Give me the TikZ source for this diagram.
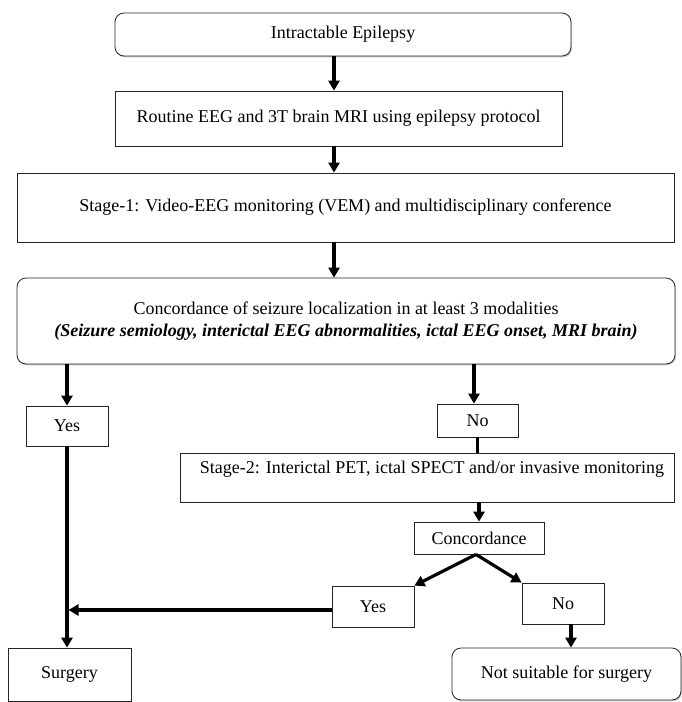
\documentclass[tikz,border=0pt]{standalone}
\usepackage{fontspec}
\setmainfont{Liberation Serif}
\usetikzlibrary{arrows.meta,shadows}
\tikzset{
  box/.style={draw=black!85, line width=0.8pt, fill=white, inner sep=0pt,
    font=\fontsize{18}{21.5}\selectfont, align=center,
    drop shadow={shadow xshift=1pt,shadow yshift=-1.3pt,opacity=0.35,fill=black!60}},
  rbox/.style={box, rounded corners=9pt},
  arr/.style={line width=3.2pt, -{Triangle[length=10pt,width=11pt]}},
  ln/.style={line width=3.2pt},
  txt/.style={font=\fontsize{18}{21.5}\selectfont, inner sep=0pt}
}
\begin{document}
\begin{tikzpicture}[x=1pt,y=-1pt]
\useasboundingbox[fill=white] (0,0) rectangle (682,702);
\node[rbox, minimum width=456pt, minimum height=43pt] (a) at (343,34.5) {Intractable Epilepsy};
\node[box, minimum width=447pt, minimum height=55pt] (b) at (338.5,118.5) {Routine EEG and 3T brain MRI using epilepsy protocol};
\node[box, minimum width=657pt, minimum height=69pt] (c) at (345.5,207.5) {Stage-1: Video-EEG monitoring (VEM) and multidisciplinary conference};
\node[rbox, minimum width=658pt, minimum height=86pt] (d) at (346,321) {Concordance of seizure localization in at least 3 modalities\\\textbf{\textit{(Seizure semiology, interictal EEG abnormalities, ictal EEG onset, MRI brain)}}};
\node[box, minimum width=82pt, minimum height=40pt] (e) at (67,426) {Yes};
\node[box, minimum width=81pt, minimum height=33pt] (f) at (477.5,420.5) {No};
\node[box, minimum width=494pt, minimum height=49pt] (g) at (427,477.5) {};
\node[txt] (gt) at (432,469) {Stage-2: Interictal PET, ictal SPECT and/or invasive monitoring};
\node[box, minimum width=130pt, minimum height=32pt] (h) at (479,538) {Concordance};
\node[box, minimum width=82pt, minimum height=41pt] (i) at (373,606.5) {Yes};
\node[box, minimum width=82pt, minimum height=41pt] (j) at (563,603.5) {No};
\node[box, minimum width=123pt, minimum height=53pt] (k) at (69.5,674.5) {Surgery};
\node[rbox, minimum width=229pt, minimum height=52pt] (l) at (566.5,674) {Not suitable for surgery};
\coordinate (m) at (68.5,610);
\draw[arr] (334,0 |- a.south) -- (334,0 |- b.north);
\draw[arr] (334,0 |- b.south) -- (334,0 |- c.north);
\draw[arr] (334,0 |- c.south) -- (334,0 |- d.north);
\draw[arr] (67,0 |- d.south) -- (e.north);
\draw[arr] (474,0 |- d.south) -- (474,0 |- f.north);
\draw[ln] (f.south) -- (f.south |- g.north);
\draw[arr] (479,0 |- g.south) -- (h.north);
\draw[arr] (476,0 |- h.south) -- (i.north east);
\draw[arr] (476,0 |- h.south) -- (j.north west);
\draw[arr] (i.west |- m) -- (m);
\draw[arr] (e.south) -- (e.south |- k.north);
\draw[arr] (571,0 |- j.south) -- (571,0 |- l.north);
\end{tikzpicture}
\end{document}
